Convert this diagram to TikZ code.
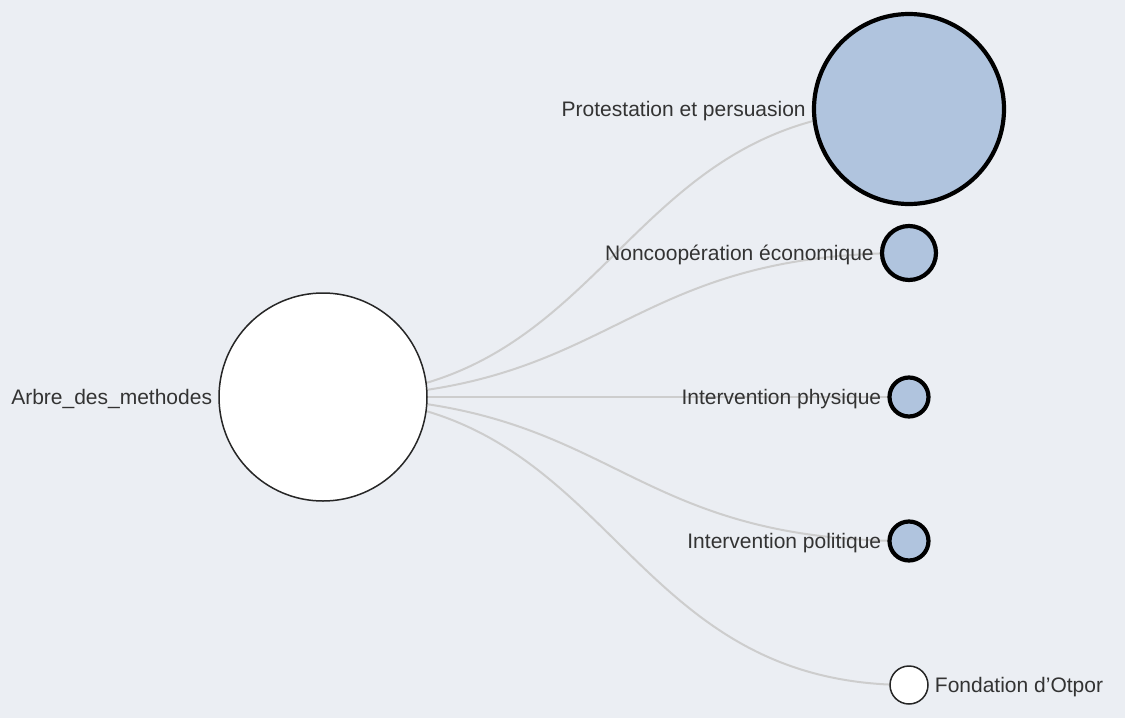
\documentclass[tikz,border=0pt]{standalone}
\usepackage{fontspec}
\setmainfont{Liberation Sans}
\definecolor{bgc}{RGB}{235,238,243}
\definecolor{steel}{RGB}{176,196,222}
\definecolor{linkc}{RGB}{205,205,205}
\definecolor{txt}{RGB}{51,51,51}
\begin{document}
\begin{tikzpicture}[x=1pt,y=-1pt,
  link/.style={draw=linkc,line width=2pt},
  leaf/.style={circle,draw=black,line width=4.2pt,fill=steel,inner sep=0pt},
  plain/.style={circle,draw=black!85,line width=1.5pt,fill=white,inner sep=0pt},
  lab/.style={text=txt,font=\fontsize{21}{24}\selectfont,inner sep=0pt}]
\fill[bgc] (0,0) rectangle (1125,718);
\useasboundingbox (0,0) rectangle (1125,718);
% node centres
\coordinate (cr) at (323,397);
\coordinate (c1) at (909,109);
\coordinate (c2) at (909,253);
\coordinate (c3) at (909,397);
\coordinate (c4) at (909,541);
\coordinate (c5) at (909,685);
% links (d3 diagonal)
\foreach \c/\y in {c1/109,c2/253,c3/397,c4/541,c5/685}{
  \draw[link] (cr) .. controls (616,397) and (616,\y) .. (\c);
}
% nodes
\node[plain,minimum size=208pt] (root) at (cr) {};
\node[leaf,minimum size=190pt] (n1) at (c1) {};
\node[leaf,minimum size=54pt] (n2) at (c2) {};
\node[leaf,minimum size=39pt] (n3) at (c3) {};
\node[leaf,minimum size=39pt] (n4) at (c4) {};
\node[plain,minimum size=38pt] (n5) at (c5) {};
% labels
\node[lab,anchor=base east] (lr) at ([xshift=-6pt,yshift=-7.5pt]root.west) {Arbre\_des\_methodes};
\node[lab,anchor=base east] (l1) at ([xshift=-6pt,yshift=-7.5pt]n1.west) {Protestation et persuasion};
\node[lab,anchor=base east] (l2) at ([xshift=-6pt,yshift=-7.5pt]n2.west) {Noncoopération économique};
\node[lab,anchor=base east] (l3) at ([xshift=-6pt,yshift=-7.5pt]n3.west) {Intervention physique};
\node[lab,anchor=base east] (l4) at ([xshift=-6pt,yshift=-7.5pt]n4.west) {Intervention politique};
\node[lab,anchor=base west] (l5) at ([xshift=6pt,yshift=-7.5pt]n5.east) {Fondation d’Otpor};
\end{tikzpicture}
\end{document}
